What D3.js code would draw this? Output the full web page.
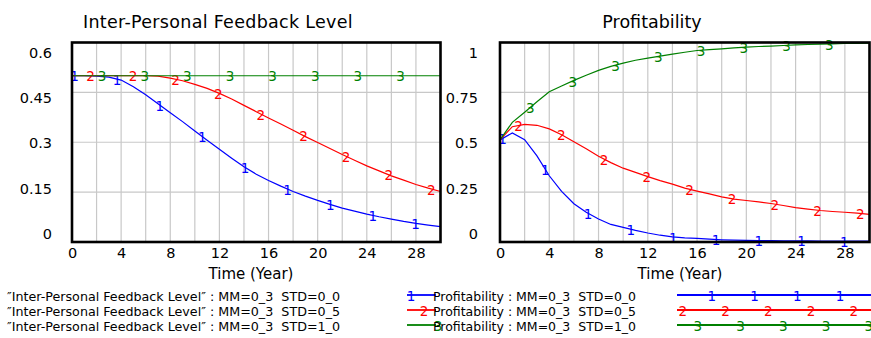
<!DOCTYPE html>
<html>
<head>
<meta charset="utf-8">
<script src="https://cdn.jsdelivr.net/npm/d3@7"></script>
<style>
  body { margin: 0; background: #fff; }
  svg { display: block; font-family: "DejaVu Sans", Verdana, sans-serif; }
</style>
</head>
<body>
<svg id="chart" width="871" height="338"></svg>
<script>
// ---- data: simulation runs, one value per year (0..30) ----
const years = d3.range(0, 31);

const feedbackSTD00 = [0.5, 0.5, 0.499, 0.496, 0.487, 0.467, 0.443, 0.416, 0.389, 0.362, 0.334,
  0.306, 0.279, 0.252, 0.226, 0.204, 0.185, 0.168, 0.152, 0.138, 0.125,
  0.113, 0.102, 0.093, 0.084, 0.076, 0.069, 0.062, 0.056, 0.051, 0.046];
const feedbackSTD05 = [0.5, 0.5, 0.5, 0.5, 0.5, 0.5, 0.5, 0.499, 0.493, 0.485, 0.474,
  0.462, 0.447, 0.43, 0.411, 0.392, 0.373, 0.355, 0.336, 0.317, 0.299,
  0.281, 0.263, 0.246, 0.229, 0.214, 0.199, 0.186, 0.173, 0.162, 0.152];
const feedbackSTD10 = [0.5, 0.5, 0.5, 0.5, 0.5, 0.5, 0.5, 0.5, 0.5, 0.5, 0.5,
  0.5, 0.5, 0.5, 0.5, 0.5, 0.5, 0.5, 0.5, 0.5, 0.5,
  0.5, 0.5, 0.5, 0.5, 0.5, 0.5, 0.5, 0.5, 0.5, 0.5];

const profitSTD00 = [0.512, 0.547, 0.513, 0.432, 0.332, 0.254, 0.192, 0.149, 0.115, 0.088, 0.073,
  0.058, 0.045, 0.034, 0.026, 0.021, 0.018, 0.014, 0.011, 0.009, 0.008,
  0.007, 0.007, 0.006, 0.006, 0.006, 0.005, 0.005, 0.005, 0.005, 0.005];
const profitSTD05 = [0.512, 0.578, 0.59, 0.585, 0.567, 0.538, 0.502, 0.467, 0.43, 0.398, 0.37,
  0.349, 0.328, 0.308, 0.29, 0.27, 0.255, 0.241, 0.226, 0.215, 0.208,
  0.201, 0.193, 0.183, 0.172, 0.165, 0.158, 0.153, 0.149, 0.145, 0.138];
const profitSTD10 = [0.512, 0.6, 0.65, 0.703, 0.753, 0.782, 0.81, 0.836, 0.86, 0.88, 0.897,
  0.911, 0.922, 0.932, 0.942, 0.951, 0.96, 0.964, 0.968, 0.973, 0.977,
  0.98, 0.982, 0.985, 0.988, 0.99, 0.992, 0.993, 0.995, 0.996, 0.997];

const xTicks = [0, 4, 8, 12, 16, 20, 24, 28];
const feedbackTicks = [0, 0.15, 0.3, 0.45, 0.6];
const profitTicks = [0, 0.25, 0.5, 0.75, 1];

const runNames = ["1", "2", "3"];
const runColors = ["#0000ff", "#ff0000", "#008000"];
const feedbackLegend = [
  "\u2033Inter-Personal Feedback Level\u2033 : MM=0_3  STD=0_0",
  "\u2033Inter-Personal Feedback Level\u2033 : MM=0_3  STD=0_5",
  "\u2033Inter-Personal Feedback Level\u2033 : MM=0_3  STD=1_0"
];
const profitLegend = [
  "Profitability : MM=0_3  STD=0_0",
  "Profitability : MM=0_3  STD=0_5",
  "Profitability : MM=0_3  STD=1_0"
];

// ---- layout ----
const svg = d3.select("#chart");
const markerSpacing = 3.47;           // years between run-number markers
const markerOffsets = [0.2, 1.5, 2.45];

const panels = [
  { title: "Inter-Personal Feedback Level", titleX: 218, titleSpacing: 0.3,
    series: [feedbackSTD00, feedbackSTD05, feedbackSTD10],
    ticks: feedbackTicks, yMax: 0.6,
    x0: 72, x1: 440.5, y0: 42.5, y1: 242, labelX: 52, axisTitleX: 251 },
  { title: "Profitability", titleX: 652, titleSpacing: 0,
    series: [profitSTD00, profitSTD05, profitSTD10],
    ticks: profitTicks, yMax: 1,
    x0: 500, x1: 869.5, y0: 42.5, y1: 242, labelX: 478, axisTitleX: 680 }
];

function valueAt(values, t) {
  const i = Math.min(Math.floor(t), values.length - 2);
  const f = t - i;
  return values[i] * (1 - f) + values[i + 1] * f;
}

panels.forEach(p => {
  const x = d3.scaleLinear().domain([0, 30]).range([p.x0, p.x1]);
  const y = d3.scaleLinear().domain([0, p.yMax]).range([p.y1, p.y0]);
  const yLabel = d3.scaleLinear().domain([0, p.yMax]).range([p.y1 - 8.5, p.y0 + 10.5]);
  const g = svg.append("g");

  // title
  g.append("text")
    .attr("x", p.titleX).attr("y", 28)
    .attr("text-anchor", "middle")
    .attr("font-size", 17.5)
    .attr("letter-spacing", p.titleSpacing)
    .attr("fill", "#000")
    .text(p.title);

  // grid
  g.append("g").selectAll("line.v")
    .data(d3.range(2, 30, 2))
    .join("line")
    .attr("x1", d => x(d)).attr("x2", d => x(d))
    .attr("y1", p.y0).attr("y2", p.y1)
    .attr("stroke", "#c8c8c8").attr("stroke-width", 1.2);
  g.append("g").selectAll("line.h")
    .data(p.ticks.slice(1, -1))
    .join("line")
    .attr("x1", p.x0).attr("x2", p.x1)
    .attr("y1", d => y(d)).attr("y2", d => y(d))
    .attr("stroke", "#c8c8c8").attr("stroke-width", 1.2);

  // value axis labels
  const yAxis = g.append("g")
    .attr("transform", `translate(${p.labelX},0)`)
    .call(d3.axisLeft(yLabel).tickValues(p.ticks).tickFormat(d => String(d))
      .tickSize(0).tickPadding(0));
  yAxis.select(".domain").remove();
  yAxis.attr("font-family", null).attr("font-size", 14.5);
  yAxis.selectAll("text").attr("fill", "#000");

  // time axis labels
  const xAxis = g.append("g")
    .attr("transform", `translate(0,${p.y1})`)
    .call(d3.axisBottom(x).tickValues(xTicks).tickFormat(d => String(d))
      .tickSize(0).tickPadding(6));
  xAxis.select(".domain").remove();
  xAxis.attr("font-family", null).attr("font-size", 14.5);
  xAxis.selectAll("text").attr("fill", "#000");

  g.append("text")
    .attr("x", p.axisTitleX).attr("y", 279)
    .attr("text-anchor", "middle")
    .attr("font-size", 15)
    .attr("fill", "#000")
    .text("Time (Year)");

  // run lines
  const line = d3.line().x((d, i) => x(years[i])).y(d => y(d));
  p.series.forEach((s, k) => {
    g.append("path")
      .attr("d", line(s))
      .attr("fill", "none")
      .attr("stroke", runColors[k])
      .attr("stroke-width", 1.2);
    const marks = d3.range(markerOffsets[k], 30, markerSpacing);
    g.append("g").selectAll("text")
      .data(marks)
      .join("text")
      .attr("x", t => x(t)).attr("y", t => y(valueAt(s, t)))
      .attr("dy", "0.42em")
      .attr("text-anchor", "middle")
      .attr("font-size", 13.5)
      .attr("fill", runColors[k])
      .text(runNames[k]);
  });

  // frame
  g.append("rect")
    .attr("x", p.x0).attr("y", p.y0)
    .attr("width", p.x1 - p.x0).attr("height", p.y1 - p.y0)
    .attr("fill", "none").attr("stroke", "#000").attr("stroke-width", 2.6);
});

// ---- legends ----
const legendRows = [295, 310, 325];
const legend = svg.append("g");

feedbackLegend.forEach((label, k) => {
  legend.append("text")
    .attr("x", 7).attr("y", legendRows[k] + 1)
    .attr("dy", "0.36em")
    .attr("font-size", 12.7)
    .style("white-space", "pre")
    .attr("fill", "#000")
    .text(label);
});

// long key lines for the feedback runs
const keyMarkStart = [711.7, 682.7, 697.7];
legendRows.forEach((ry, k) => {
  legend.append("line")
    .attr("x1", 677).attr("x2", 871)
    .attr("y1", ry).attr("y2", ry)
    .attr("stroke", runColors[k]).attr("stroke-width", 1.8);
  legend.append("g").selectAll("text")
    .data(d3.range(keyMarkStart[k], 875, 42.8))
    .join("text")
    .attr("x", d => d).attr("y", ry)
    .attr("dy", "0.45em")
    .attr("text-anchor", "middle")
    .attr("font-size", 13.5)
    .attr("fill", runColors[k])
    .text(runNames[k]);
});

// short key lines for the profitability runs
const shortMarkX = [411, 424, 438];
legendRows.forEach((ry, k) => {
  legend.append("line")
    .attr("x1", 407).attr("x2", 436)
    .attr("y1", ry).attr("y2", ry)
    .attr("stroke", runColors[k]).attr("stroke-width", 1.8);
  legend.append("text")
    .attr("x", shortMarkX[k]).attr("y", ry)
    .attr("dy", "0.45em")
    .attr("text-anchor", "middle")
    .attr("font-size", 13.5)
    .attr("fill", runColors[k])
    .text(runNames[k]);
  legend.append("text")
    .attr("x", 433).attr("y", ry + 1)
    .attr("dy", "0.36em")
    .attr("font-size", 12.5)
    .style("white-space", "pre")
    .attr("fill", "#000")
    .text(profitLegend[k]);
});
</script>
</body>
</html>
